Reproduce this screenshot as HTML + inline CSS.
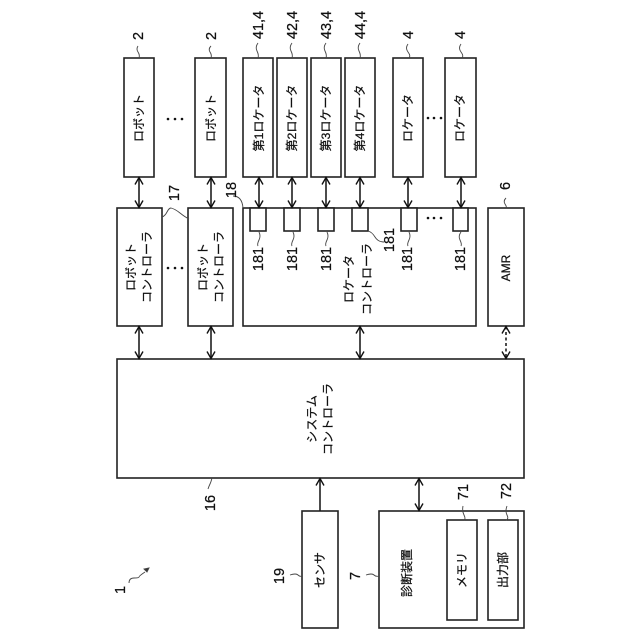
<!DOCTYPE html>
<html><head><meta charset="utf-8"><style>
html,body{margin:0;padding:0;background:#fff}
svg{display:block}
text{font-family:"Liberation Sans","Noto Sans CJK JP",sans-serif;fill:#111;stroke:#111;stroke-width:.25;text-anchor:middle;dominant-baseline:central}
.j{font-size:12px}.n{font-size:14.5px}
rect{fill:#fff;stroke:#222;stroke-width:1.6}
.a{fill:none;stroke:#111;stroke-width:1.5}
.l{fill:none;stroke:#444;stroke-width:.9}
</style></head><body>
<svg width="640" height="640" viewBox="0 0 640 640" xmlns="http://www.w3.org/2000/svg">
<defs>
<marker id="m" markerWidth="10" markerHeight="10" refX="8" refY="5" orient="auto-start-reverse" markerUnits="userSpaceOnUse"><path d="M1 1 L8 5 L1 9" fill="none" stroke="#111" stroke-width="1.4"/></marker>
</defs>
<rect x="124" y="58" width="30" height="119"/><rect x="195" y="58" width="31" height="119"/>
<rect x="243" y="58" width="30" height="119"/><rect x="277" y="58" width="30" height="119"/><rect x="311" y="58" width="30" height="119"/><rect x="345" y="58" width="30" height="119"/>
<rect x="393" y="58" width="30" height="119"/><rect x="445" y="58" width="31" height="119"/>
<rect x="117" y="208" width="45" height="118"/><rect x="188" y="208" width="45" height="118"/>
<rect x="243" y="208" width="233" height="118"/><rect x="488" y="208" width="36" height="118"/>
<rect x="250" y="208" width="16" height="23"/><rect x="284" y="208" width="16" height="23"/><rect x="318" y="208" width="16" height="23"/><rect x="352" y="208" width="16" height="23"/><rect x="401" y="208" width="16" height="23"/><rect x="453" y="208" width="15" height="23"/>
<rect x="117" y="359" width="407" height="119"/>
<rect x="302" y="511" width="36" height="117"/><rect x="379" y="511" width="145" height="117"/>
<rect x="447" y="520" width="30" height="100"/><rect x="488" y="520" width="30" height="100"/>

<line class="a" x1="139" y1="177.500" x2="139" y2="207.500" marker-start="url(#m)" marker-end="url(#m)"/>
<line class="a" x1="211" y1="177.500" x2="211" y2="207.500" marker-start="url(#m)" marker-end="url(#m)"/>
<line class="a" x1="259" y1="177.500" x2="259" y2="207.500" marker-start="url(#m)" marker-end="url(#m)"/>
<line class="a" x1="292" y1="177.500" x2="292" y2="207.500" marker-start="url(#m)" marker-end="url(#m)"/>
<line class="a" x1="326" y1="177.500" x2="326" y2="207.500" marker-start="url(#m)" marker-end="url(#m)"/>
<line class="a" x1="360" y1="177.500" x2="360" y2="207.500" marker-start="url(#m)" marker-end="url(#m)"/>
<line class="a" x1="408" y1="177.500" x2="408" y2="207.500" marker-start="url(#m)" marker-end="url(#m)"/>
<line class="a" x1="461" y1="177.500" x2="461" y2="207.500" marker-start="url(#m)" marker-end="url(#m)"/>
<line class="a" x1="139" y1="326.500" x2="139" y2="358.500" marker-start="url(#m)" marker-end="url(#m)"/>
<line class="a" x1="211" y1="326.500" x2="211" y2="358.500" marker-start="url(#m)" marker-end="url(#m)"/>
<line class="a" x1="360" y1="326.500" x2="360" y2="358.500" marker-start="url(#m)" marker-end="url(#m)"/>
<line class="a" x1="506" y1="326.500" x2="506" y2="358.500" stroke-dasharray="3 2.500" marker-start="url(#m)" marker-end="url(#m)"/>
<line class="a" x1="320" y1="510.500" x2="320" y2="478.500" marker-end="url(#m)"/>
<line class="a" x1="419" y1="478.500" x2="419" y2="510.500" marker-start="url(#m)" marker-end="url(#m)"/>

<g class="l">
<path d="M138 46q-2 3 0 6t1 6"/><path d="M211 46q-3 3-1 6t1 6"/>
<path d="M258 43q-3 4-1 8t1 7"/><path d="M292 43q-3 4-1 8t1 7"/><path d="M326 43q-3 4-1 8t1 7"/><path d="M360 43q-3 4-1 8t1 7"/>
<path d="M408 44q-3 4 0 8t1 6"/><path d="M461 44q-3 4 0 8t1 6"/>
<path d="M162 217q3-1 5-5t4-4q4 1 9 5t9 6"/>
<path d="M233 196q9 0 10 12"/>
<path d="M506 198q-3 3-1 6t1 4"/>
<path d="M259 232q2 4 0 8t-1 6"/><path d="M293 232q2 4 0 8t-1 6"/><path d="M327 232q2 4 0 8t-1 6"/>
<path d="M368 231q4 1 7 6t9 5"/>
<path d="M409 232q2 4 0 8t-1 6"/><path d="M461 232q-3 4-1 8t1 6"/>
<path d="M212 478q-1 4-2 6t-2 5"/>
<path d="M463 506q-1 5 1 9t0 5"/><path d="M507 506q-2 5 0 9t-1 5"/>
<path d="M290 575q6-2 8 0t4 1"/><path d="M366 575q6-2 8 0t5 1"/>
<path d="M129 583q0-5 5-5t5-1 6-5"/><path d="M149 568l-5 1 3 3z" fill="#333"/>
</g>

<g fill="#111">
<circle cx="168" cy="119" r="1.300"/><circle cx="175" cy="119" r="1.300"/><circle cx="182" cy="119" r="1.300"/>
<circle cx="168" cy="268" r="1.300"/><circle cx="175" cy="268" r="1.300"/><circle cx="182" cy="268" r="1.300"/>
<circle cx="428" cy="118" r="1.300"/><circle cx="434" cy="118" r="1.300"/><circle cx="441" cy="118" r="1.300"/>
<circle cx="428" cy="218" r="1.300"/><circle cx="434" cy="218" r="1.300"/><circle cx="441" cy="218" r="1.300"/>
</g>

<g class="j">
<text transform="translate(139 118) rotate(-90)">ロボット</text>
<text transform="translate(211 118) rotate(-90)">ロボット</text>
<text transform="translate(259 118) rotate(-90)">第1ロケータ</text>
<text transform="translate(292 118) rotate(-90)">第2ロケータ</text>
<text transform="translate(326 118) rotate(-90)">第3ロケータ</text>
<text transform="translate(360 118) rotate(-90)">第4ロケータ</text>
<text transform="translate(408 118) rotate(-90)">ロケータ</text>
<text transform="translate(460 118) rotate(-90)">ロケータ</text>
<text transform="translate(131 267) rotate(-90)">ロボット</text>
<text transform="translate(147 267) rotate(-90)">コントローラ</text>
<text transform="translate(203 267) rotate(-90)">ロボット</text>
<text transform="translate(219 267) rotate(-90)">コントローラ</text>
<text transform="translate(349 279) rotate(-90)">ロケータ</text>
<text transform="translate(367 279) rotate(-90)">コントローラ</text>
<text transform="translate(506 268) rotate(-90)">AMR</text>
<text transform="translate(312 419) rotate(-90)">システム</text>
<text transform="translate(328 419) rotate(-90)">コントローラ</text>
<text transform="translate(320 570) rotate(-90)">センサ</text>
<text transform="translate(407 573) rotate(-90)">診断装置</text>
<text transform="translate(462 570) rotate(-90)">メモリ</text>
<text transform="translate(503 570) rotate(-90)">出力部</text>
</g>

<g class="n">
<text transform="translate(139 36) rotate(-90)">2</text>
<text transform="translate(212 36) rotate(-90)">2</text>
<text transform="translate(259 25) rotate(-90)">41,4</text>
<text transform="translate(293 25) rotate(-90)">42,4</text>
<text transform="translate(327 25) rotate(-90)">43,4</text>
<text transform="translate(361 25) rotate(-90)">44,4</text>
<text transform="translate(409 35) rotate(-90)">4</text>
<text transform="translate(461 35) rotate(-90)">4</text>
<text transform="translate(175 193) rotate(-90)">17</text>
<text transform="translate(232 190) rotate(-90)">18</text>
<text transform="translate(506 186) rotate(-90)">6</text>
<text transform="translate(259 259) rotate(-90)">181</text>
<text transform="translate(293 259) rotate(-90)">181</text>
<text transform="translate(327 259) rotate(-90)">181</text>
<text transform="translate(390 240) rotate(-90)">181</text>
<text transform="translate(408 259) rotate(-90)">181</text>
<text transform="translate(461 259) rotate(-90)">181</text>
<text transform="translate(211 503) rotate(-90)">16</text>
<text transform="translate(464 492) rotate(-90)">71</text>
<text transform="translate(507 491) rotate(-90)">72</text>
<text transform="translate(280 576) rotate(-90)">19</text>
<text transform="translate(356 576) rotate(-90)">7</text>
<text transform="translate(121 590) rotate(-90)">1</text>
</g>
</svg>
</body></html>
